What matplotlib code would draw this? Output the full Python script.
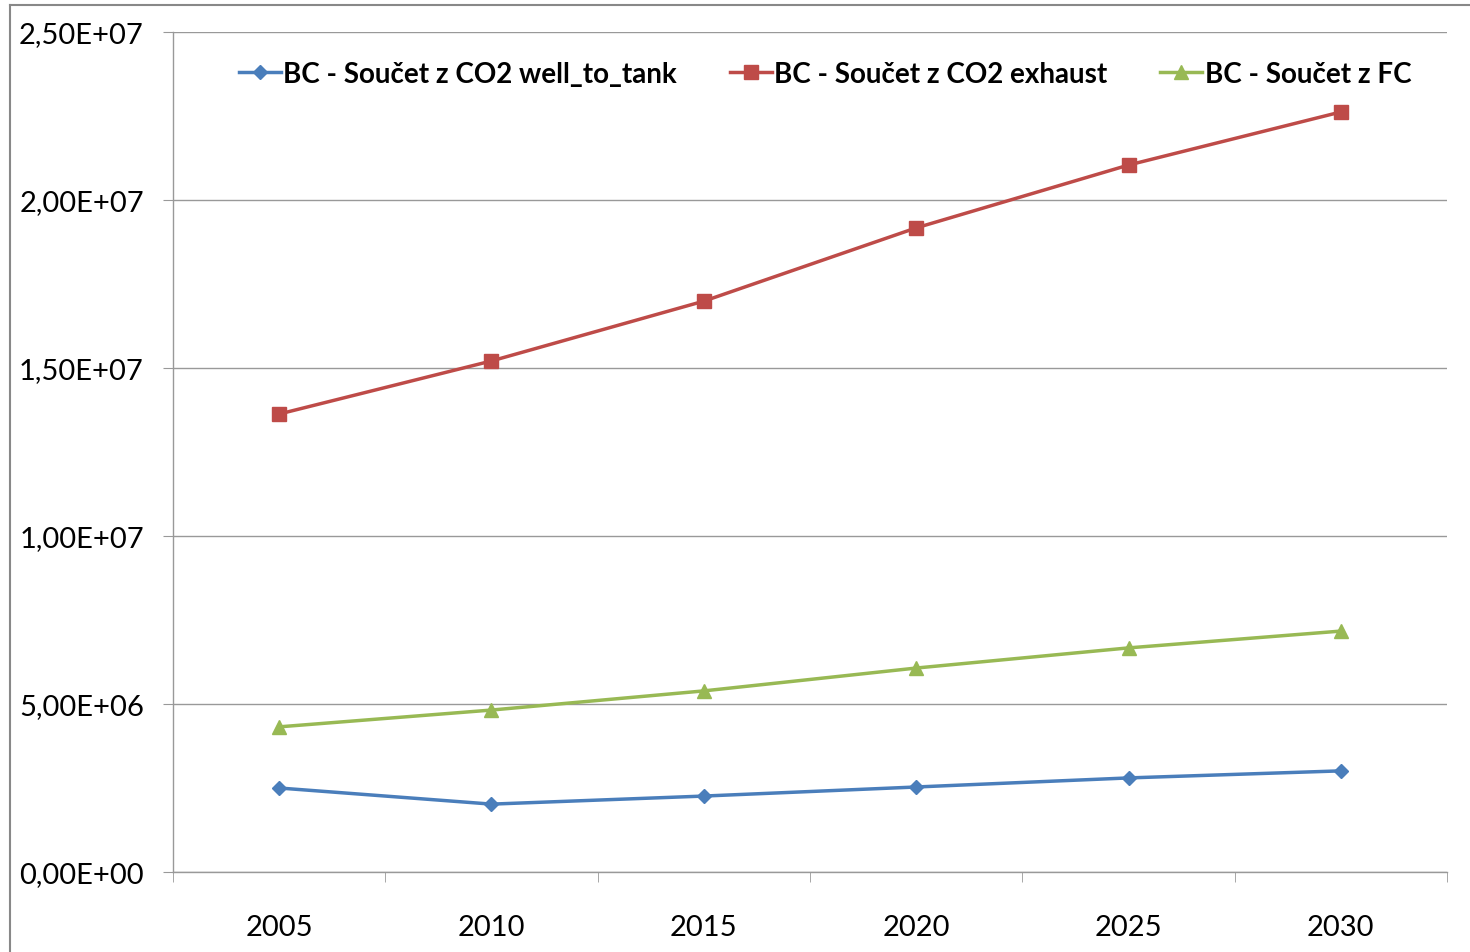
import numpy as np
import matplotlib.pyplot as plt
from matplotlib.lines import Line2D
from matplotlib.ticker import FuncFormatter

years = ["2005", "2010", "2015", "2020", "2025", "2030"]
well_to_tank = [2.50e6, 2.02e6, 2.26e6, 2.53e6, 2.80e6, 3.01e6]
exhaust = [13.63e6, 15.21e6, 16.99e6, 19.17e6, 21.04e6, 22.62e6]
fc = [4.32e6, 4.82e6, 5.39e6, 6.07e6, 6.67e6, 7.17e6]

plt.rcParams['font.family'] = ['Lato', 'DejaVu Sans']

fig = plt.figure(figsize=(14.7, 9.53), dpi=100)
ax = fig.add_axes([173 / 1470, 1 - 873 / 953, (1447 - 173) / 1470, (873 - 33) / 953])

# outer chart border (partly visible in the reference)
fig.add_artist(Line2D([10 / 1470, 10 / 1470], [0, 1 - 6 / 953], color="#888888", lw=1.5))
fig.add_artist(Line2D([10 / 1470, 1], [1 - 6 / 953, 1 - 6 / 953], color="#888888", lw=1.5))

x = np.arange(len(years))
ax.plot(x, well_to_tank, color="#4a7ebb", lw=2.5, marker="D", ms=7,
        label="BC - Součet z CO2 well_to_tank")
ax.plot(x, exhaust, color="#be4b48", lw=2.5, marker="s", ms=10,
        label="BC - Součet z CO2 exhaust")
ax.plot(x, fc, color="#98b954", lw=2.5, marker="^", ms=10,
        label="BC - Součet z FC")

ax.set_xlim(-0.5, 5.5)
ax.set_ylim(0, 2.5e7)
ax.set_yticks(np.arange(0, 2.51e7, 5e6))
ax.yaxis.set_major_formatter(FuncFormatter(lambda v, p: "{:.2E}".format(v).replace(".", ",")))
ax.grid(axis="y", color="#999999", lw=1)
ax.set_axisbelow(True)

ax.set_xticks(x)
ax.set_xticklabels(years)
ax.set_xticks(np.arange(-0.5, 6, 1), minor=True)
ax.tick_params(axis="x", which="major", length=0, pad=30, labelsize=21)
ax.tick_params(axis="x", which="minor", length=7, color="#999999", direction="out")
ax.tick_params(axis="y", length=7, color="#999999", labelsize=21, pad=14)

for s in ["top", "right"]:
    ax.spines[s].set_visible(False)
for s in ["left", "bottom"]:
    ax.spines[s].set_color("#999999")
    ax.spines[s].set_linewidth(1)

ax.legend(loc="upper center", bbox_to_anchor=(0.512, 0.995), ncol=3, frameon=False,
          prop={"weight": "bold", "size": 20}, handlelength=1.5, handletextpad=0.1,
          columnspacing=1.9, borderaxespad=0.5)

fig.savefig("out.png", dpi=100)
